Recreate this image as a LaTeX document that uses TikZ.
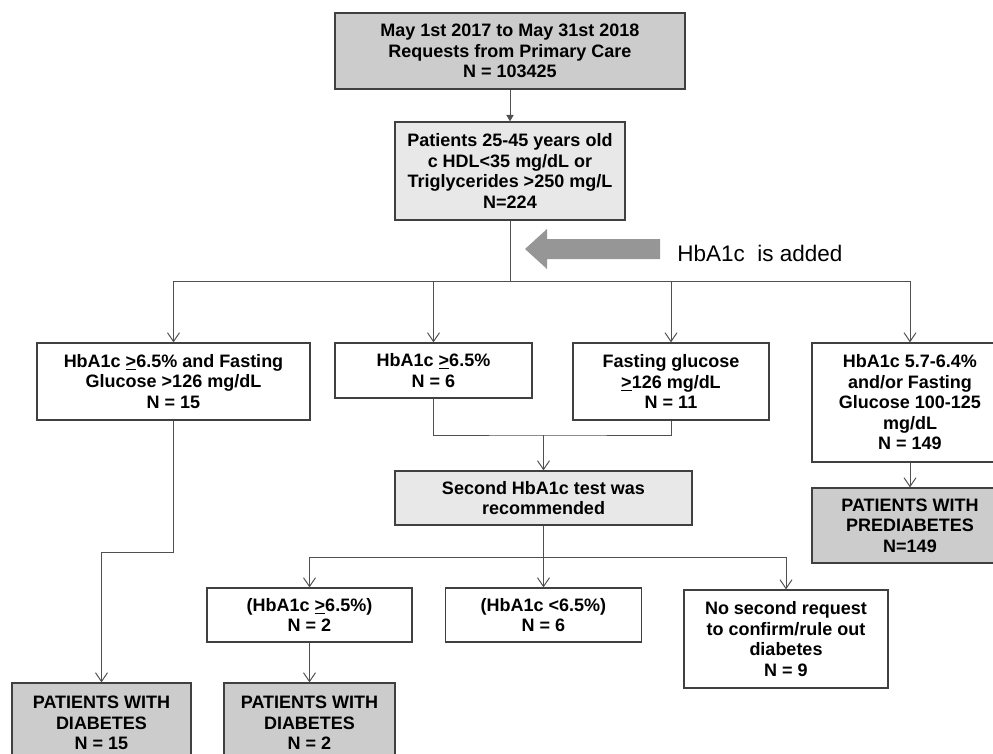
\documentclass[tikz,border=0pt]{standalone}
\usepackage{fontspec}
\setmainfont{Liberation Sans}
\usetikzlibrary{arrows.meta}
\definecolor{boxline}{RGB}{64,64,64}
\definecolor{linkgray}{RGB}{80,80,80}
\definecolor{palegray}{RGB}{232,232,232}
\definecolor{shadegray}{RGB}{204,204,204}
\definecolor{addgray}{RGB}{150,150,150}
\begin{document}
\begin{tikzpicture}[x=0.25mm,y=-0.25mm]
                      \tikzstyle{box}=[draw=boxline,line width=0.9pt,align=center,inner sep=0pt,font=\fontsize{12.8}{14.6}\selectfont\bfseries]
                      \tikzstyle{pale}=[box,fill=palegray]
                      \tikzstyle{shade}=[box,fill=shadegray]
                      \tikzstyle{plain}=[draw=linkgray,line width=0.7pt]
                      \tikzstyle{link}=[plain,-{Straight Barb[length=2.2mm,width=3mm]}]
                      \useasboundingbox (0,0) rectangle (993,754);
                      \node[shade,minimum width=87.5mm,minimum height=19mm] (req) at (510,51) {May 1st 2017 to May 31st 2018\\Requests from Primary Care\\N = 103425};
                      \node[pale,minimum width=57.5mm,minimum height=24.5mm] (pat) at (510,171) {Patients 25-45 years old\\c HDL<35 mg/dL or\\Triglycerides >250 mg/L\\N=224};
                      \node[box,minimum width=68.25mm,minimum height=19.25mm] (both) at (173.5,381.5) {HbA1c \underline{>}6.5\% and Fasting\\Glucose >126 mg/dL\\N = 15};
                      \node[box,minimum width=49.25mm,minimum height=13.75mm] (hba) at (433.5,370.5) {HbA1c \underline{>}6.5\%\\N = 6};
                      \node[box,minimum width=49mm,minimum height=19.25mm] (fg) at (671,381.5) {Fasting glucose\\\underline{>}126 mg/dL\\N = 11};
                      \node[box,minimum width=49mm,minimum height=29.75mm] (pre) at (910,402.5) {HbA1c 5.7-6.4\%\\and/or Fasting\\Glucose 100-125\\mg/dL\\N = 149};
                      \node[pale,minimum width=74.25mm,minimum height=13.5mm] (second) at (543.5,498) {Second HbA1c test was\\recommended};
                      \node[shade,minimum width=49mm,minimum height=18.75mm] (prediab) at (910,525.5) {PATIENTS WITH\\PREDIABETES\\N=149};
                      \node[box,minimum width=51.25mm,minimum height=13.5mm] (hbapos) at (309.5,615) {(HbA1c \underline{>}6.5\%)\\N = 2};
                      \node[box,minimum width=49mm,minimum height=13.5mm] (hbaneg) at (543.5,615) {(HbA1c <6.5\%)\\N = 6};
                      \node[box,minimum width=51mm,minimum height=24.5mm] (nosec) at (786,639) {No second request\\to confirm/rule out\\diabetes\\N = 9};
                      \node[shade,minimum width=44.75mm,minimum height=20mm] (diab1) at (101.5,723) {PATIENTS WITH\\DIABETES\\N = 15};
                      \node[shade,minimum width=42.75mm,minimum height=20mm] (diab2) at (309.5,723) {PATIENTS WITH\\DIABETES\\N = 2};
                      \node[anchor=west,inner sep=0pt,font=\fontsize{16}{18}\selectfont] (added) at (677,253) {HbA1c\ \ is added};
                      \coordinate (split) at (510,281);
                      \coordinate (merge) at (543.5,435);
                      \coordinate (split2) at (543.5,557);
                      \coordinate (kink) at (101.5,552);
                      \fill[addgray] (660,239) -- (547,239) -- (547,229) -- (525,249) -- (547,269) -- (547,259) -- (660,259) -- cycle;
                      \draw[plain,-{Triangle[length=1.6mm,width=1.8mm]}] (req) -- (pat);
                      \draw[plain] (pat) -- (split);
                      \draw[link] (split) -| (both);
                      \draw[link] (split) -| (hba);
                      \draw[link] (split) -| (fg);
                      \draw[link] (split) -| (pre);
                      \draw[plain] (hba) |- (merge) -| (fg);
                      \draw[link] (merge) -- (second);
                      \draw[plain] (second) -- (split2);
                      \draw[link] (split2) -| (hbapos);
                      \draw[link] (split2) -- (hbaneg);
                      \draw[link] (split2) -| (nosec);
                      \draw[link] (hbapos) -- (diab2);
                      \draw[link] (both) |- (kink) -- (diab1);
                      \draw[link] (pre) -- (prediab);
\end{tikzpicture}
\end{document}
